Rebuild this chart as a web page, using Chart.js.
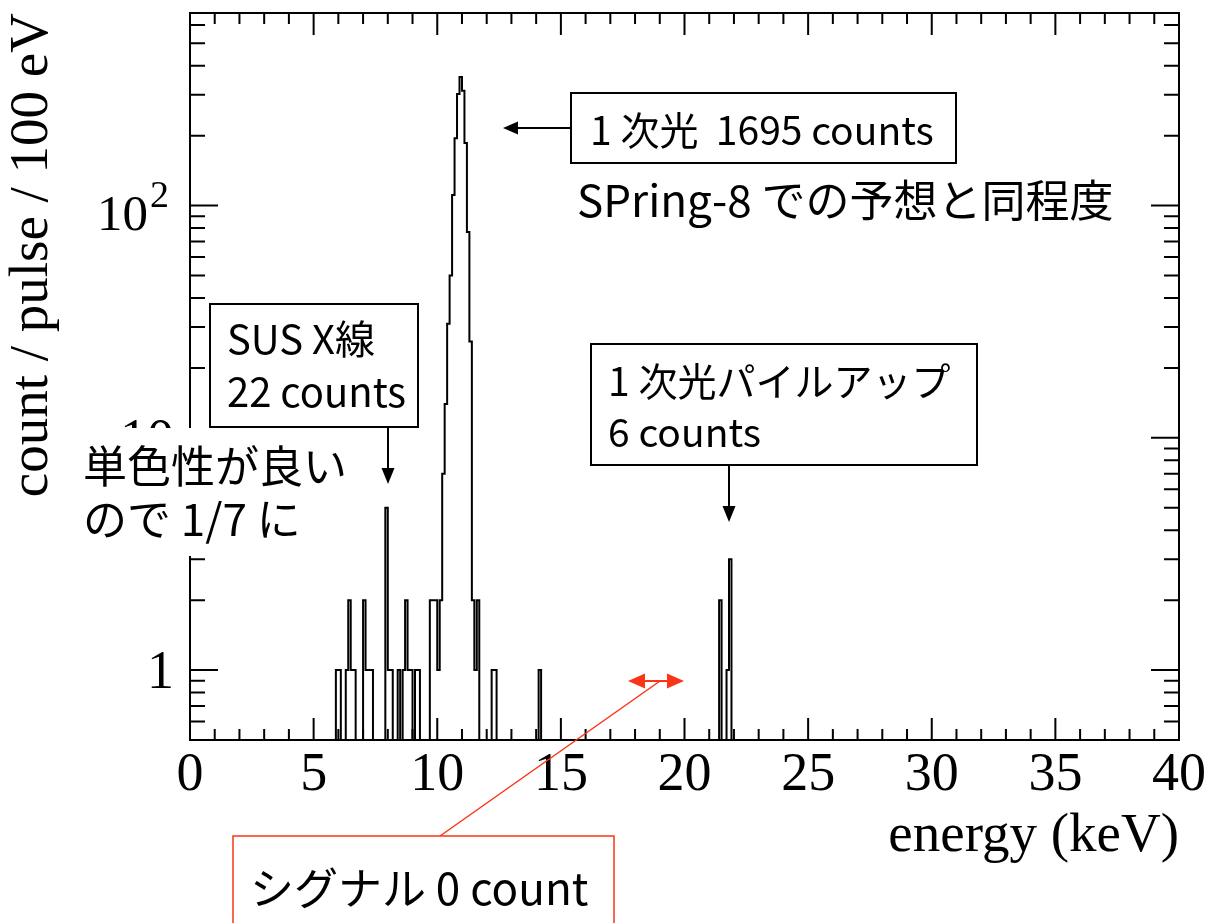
<!DOCTYPE html>
<html>
<head>
<meta charset="utf-8">
<script src="https://cdn.jsdelivr.net/npm/chart.js@4.4.1/dist/chart.umd.min.js"></script>
<style>
  html, body { margin: 0; padding: 0; background: #fff; }
</style>
</head>
<body>
<canvas id="spectrum" width="1209" height="923"></canvas>
<script>
// energy histogram, 100 eV bins; only the non-empty bins are listed
const binWidth = 0.1; // keV
const binLowEdge = [5.9, 6.0, 6.3, 6.4, 6.5, 6.6, 7.0, 7.1, 7.2, 7.3,
  7.9, 8.0, 8.1, 8.4, 8.6, 8.7, 8.8, 8.9, 9.1, 9.2,
  9.7, 9.8, 9.9, 10.0, 10.1, 10.2, 10.3, 10.4, 10.5, 10.6,
  10.7, 10.8, 10.9, 11.0, 11.1, 11.2, 11.3, 11.4, 11.5, 11.6,
  12.2, 12.3, 14.1, 21.4, 21.7, 21.8];
const binCounts = [1, 1, 1, 2, 1, 1, 2, 1, 1, 1,
  5, 1, 1, 1, 1, 2, 1, 1, 1, 1,
  2, 2, 2, 1, 2, 7, 14, 31, 50, 111,
  195, 302, 358, 312, 186, 77, 26, 2, 1, 2,
  1, 1, 1, 2, 1, 3];
const xRange = [0, 40];
const yRange = [0.5, 675];
const xTickLabels = [0, 5, 10, 15, 20, 25, 30, 35, 40];
const yTickValues = [1, 10, 100];

// empty bins sit below the log axis so the line runs along the frame
const emptyLevel = 0.1;
const nBins = Math.round((xRange[1] - xRange[0]) / binWidth);
const filled = new Map(binLowEdge.map((e, i) => [Math.round(e / binWidth), binCounts[i]]));
const steps = [];
for (let i = 0; i < nBins; i++) {
    const c = filled.get(i) || 0;
    steps.push({ x: xRange[0] + i * binWidth, y: c > 0 ? c : emptyLevel });
}
steps.push({ x: xRange[1], y: steps[steps.length - 1].y });

const serif = '"Liberation Serif", "Times New Roman", serif';
const jp = '"Noto Sans CJK JP", sans-serif';
const red = 'rgb(250, 52, 22)';

function arrow(ctx, x1, y1, x2, y2, len, half) {
    const a = Math.atan2(y2 - y1, x2 - x1);
    const c = Math.cos(a), s = Math.sin(a);
    ctx.beginPath();
    ctx.moveTo(x1, y1);
    ctx.lineTo(x2 - c * len * 0.7, y2 - s * len * 0.7);
    ctx.stroke();
    ctx.beginPath();
    ctx.moveTo(x2, y2);
    ctx.lineTo(x2 - c * len - s * half, y2 - s * len + c * half);
    ctx.lineTo(x2 - c * len + s * half, y2 - s * len - c * half);
    ctx.closePath();
    ctx.fill();
}

function text(ctx, str, x, y, size) {
    ctx.font = size + 'px ' + jp;
    ctx.textAlign = 'left';
    ctx.textBaseline = 'alphabetic';
    ctx.fillText(str, x, y);
}

// frame, inward ticks, y labels and the slide annotations
const framePlugin = {
    id: 'framePlugin',
    afterDraw(chart) {
        const { ctx, chartArea: a, scales: { x, y } } = chart;
        ctx.save();
        ctx.strokeStyle = '#000';
        ctx.fillStyle = '#000';
        ctx.lineWidth = 2;
        ctx.strokeRect(a.left, a.top, a.right - a.left, a.bottom - a.top);

        ctx.beginPath();
        for (let k = xRange[0] + 1; k < xRange[1]; k++) {
            const px = x.getPixelForValue(k);
            const len = k % 5 === 0 ? 22 : 11;
            ctx.moveTo(px, a.bottom); ctx.lineTo(px, a.bottom - len);
            ctx.moveTo(px, a.top); ctx.lineTo(px, a.top + len);
        }
        for (let dec = 0.1; dec < yRange[1]; dec *= 10) {
            for (let m = 1; m < 10; m++) {
                const v = m * dec;
                if (v <= yRange[0] || v >= yRange[1]) continue;
                const py = y.getPixelForValue(v);
                const len = m === 1 ? 28 : 15;
                ctx.moveTo(a.left, py); ctx.lineTo(a.left + len, py);
                ctx.moveTo(a.right, py); ctx.lineTo(a.right - len, py);
            }
        }
        ctx.stroke();

        // y tick labels
        ctx.textBaseline = 'alphabetic';
        ctx.textAlign = 'right';
        yTickValues.forEach(v => {
            const py = y.getPixelForValue(v);
            const exp = Math.round(Math.log10(v));
            if (exp < 2) {
                ctx.font = '54px ' + serif;
                ctx.fillText(String(v), a.left - 16, py + 18);
            } else {
                ctx.font = '51px ' + serif;
                ctx.fillText('10', a.left - 42, py + 24);
                ctx.textAlign = 'left';
                ctx.font = '38px ' + serif;
                ctx.fillText(String(exp), a.left - 40, py + 1);
                ctx.textAlign = 'right';
            }
        });

        // annotations
        ctx.lineWidth = 2;
        // white text patch over the left axis
        ctx.fillStyle = '#fff';
        ctx.fillRect(76, 428, 296, 128);
        ctx.fillStyle = '#000';
        text(ctx, '単色性が良い', 83, 483, 44);
        text(ctx, 'ので 1/7 に', 83, 536, 44);

        const boxes = [[571, 93, 385, 70], [210, 304, 208, 123], [591, 344, 386, 121]];
        boxes.forEach(b => {
            ctx.fillStyle = '#fff';
            ctx.fillRect(b[0], b[1], b[2], b[3]);
            ctx.strokeRect(b[0], b[1], b[2], b[3]);
        });
        ctx.fillStyle = '#000';
        text(ctx, '1 次光  1695 counts', 590, 145, 39);
        text(ctx, 'SPring-8 での予想と同程度', 577, 217, 44);
        text(ctx, 'SUS X線', 227, 354, 40);
        text(ctx, '22 counts', 227, 407, 40);
        text(ctx, '1 次光パイルアップ', 608, 396, 39);
        text(ctx, '6 counts', 608, 447, 39);

        arrow(ctx, 571, 128, 503, 128, 15, 6.5);
        arrow(ctx, 388, 427, 388, 484, 16, 6.5);
        arrow(ctx, 729, 465, 729, 522, 16, 6.5);

        // signal region
        ctx.strokeStyle = red;
        ctx.fillStyle = red;
        ctx.lineWidth = 2;
        arrow(ctx, 656, 681, 628, 681, 17, 7.5);
        arrow(ctx, 656, 681, 684, 681, 17, 7.5);
        ctx.lineWidth = 1.5;
        ctx.beginPath();
        ctx.moveTo(660, 681);
        ctx.lineTo(440, 836);
        ctx.stroke();
        ctx.fillStyle = '#fff';
        ctx.fillRect(233, 836, 381, 100);
        ctx.strokeRect(233, 836, 381, 100);
        ctx.fillStyle = '#000';
        text(ctx, 'シグナル 0 count', 250, 905, 44);
        ctx.restore();
    }
};

const config = {
    type: 'line',
    data: {
        datasets: [{
            data: steps,
            stepped: true,
            borderColor: '#000',
            borderWidth: 2,
            pointRadius: 0,
            fill: false
        }]
    },
    options: {
        responsive: false,
        animation: false,
        layout: { padding: { top: 13, right: 29, left: 0, bottom: 0 } },
        plugins: { legend: { display: false }, tooltip: { enabled: false } },
        scales: {
            x: {
                type: 'linear',
                min: xRange[0],
                max: xRange[1],
                afterBuildTicks: s => { s.ticks = xTickLabels.map(v => ({ value: v })); },
                afterFit: s => { s.height = 183; },
                grid: { display: false, drawTicks: false },
                border: { display: false },
                ticks: {
                    autoSkip: false,
                    maxRotation: 0,
                    padding: 3,
                    color: '#000',
                    font: { family: serif, size: 54 }
                },
                title: {
                    display: true,
                    text: 'energy (keV)',
                    align: 'end',
                    color: '#000',
                    font: { family: serif, size: 55 },
                    padding: { top: 0, bottom: 53 }
                }
            },
            y: {
                type: 'logarithmic',
                min: yRange[0],
                max: yRange[1],
                afterBuildTicks: s => { s.ticks = yTickValues.map(v => ({ value: v })); },
                afterFit: s => { s.width = 190; },
                grid: { display: false, drawTicks: false },
                border: { display: false },
                ticks: { display: false },
                title: {
                    display: true,
                    text: 'count / pulse / 100 eV',
                    align: 'end',
                    color: '#000',
                    font: { family: serif, size: 55 },
                    padding: { top: 0, bottom: 0 }
                }
            }
        }
    },
    plugins: [framePlugin]
};

const spectrumChart = new Chart(document.getElementById('spectrum'), config);
</script>
</body>
</html>
